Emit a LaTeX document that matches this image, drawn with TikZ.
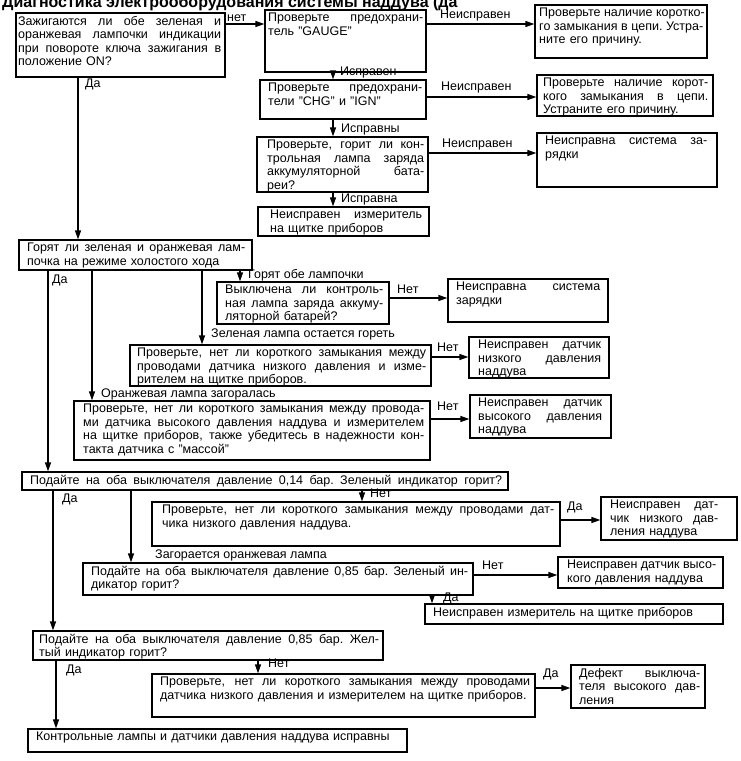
\documentclass[tikz,border=0pt]{standalone}
\usepackage{fontspec}
\setmainfont{Liberation Sans}
\usetikzlibrary{arrows.meta,fit}
\tikzset{
 boxs/.style={draw, line width=1.3pt, inner sep=0pt},
 txt/.style={inner sep=0pt, align=left, font=\fontsize{12.5}{13.5}\selectfont, anchor=north west},
 lbl/.style={inner sep=0pt, font=\fontsize{12.5}{13.5}\selectfont, anchor=base west},
 arr/.style={line width=1.3pt, -{Triangle[length=9pt,width=6pt]}},
}
\newcommand\jl[1]{{\spaceskip=\fontdimen2\font plus 1fil\xspaceskip=\spaceskip\makebox[\hsize][s]{#1}}\\}
\newcommand\jn[1]{{\spaceskip=\fontdimen2\font plus 1fil\xspaceskip=\spaceskip\makebox[\hsize][s]{#1}}}
\newcommand\bx[8]{%
  \node[boxs, fit={(#2,#3) (#4,#5)}] (#1) {};
  \pgfmathsetmacro\tw{#7-#6}%
  \pgfmathsetmacro\ty{#3+3}%
  \node[txt, text width=\tw pt] (#1t) at (#6,\ty) {#8};
}
\begin{document}
\begin{tikzpicture}[x=1pt,y=-1pt]
\useasboundingbox (0,0) rectangle (740,761);
\fill[white] (0,0) rectangle (740,761);
\clip (0,0) rectangle (740,761);
\node[font=\bfseries\fontsize{16}{16}\selectfont, anchor=base west, inner sep=0] (title) at (2,7) {Диагностика электрооборудования системы наддува (да};

\bx{b1}{16}{13}{225}{77}{18}{221}{\jl{Зажигаются ли обе зеленая и}\jl{оранжевая лампочки индикации}\jl{при повороте ключа зажигания в}положение ON?}
\bx{b2}{265}{10}{426}{72}{268}{423}{\jl{Проверьте предохрани-}тель "GAUGE"}
\bx{b3}{260}{80}{426}{119}{268}{422}{\jl{Проверьте предохрани-}тели "CHG" и "IGN"}
\bx{b4}{257}{137}{428}{192}{267}{424}{\jl{Проверьте, горит ли кон-}\jl{трольная лампа заряда}\jl{аккумуляторной бата-}реи?}
\bx{b8}{258}{207}{429}{236}{270}{422}{\jl{Неисправен измеритель}на щитке приборов}
\bx{b5}{535}{5}{707}{58}{539}{703}{\jl{Проверьте наличие коротко-}\jl{го замыкания в цепи. Устра-}ните его причину.}
\bx{b6}{537}{75}{713}{116}{543}{708}{\jl{Проверьте наличие корот-}\jl{кого замыкания в цепи.}Устраните его причину.}
\bx{b7}{537}{133}{717}{187}{545}{707}{\jl{Неисправна система за-}рядки}
\bx{b9}{19}{240}{252}{270}{27}{245}{\jl{Горят ли зеленая и оранжевая лам-}почка на режиме холостого хода}
\bx{b10}{217}{282}{389}{324}{225}{383}{\jl{Выключена ли контроль-}\jl{ная лампа заряда аккуму-}ляторной батарей?}
\bx{b11}{448}{279}{608}{322}{456}{600}{\jl{Неисправна система}зарядки}
\bx{b12}{130}{345}{431}{386}{137}{426}{\jl{Проверьте, нет ли короткого замыкания между}\jl{проводами датчика низкого давления и изме-}рителем на щитке приборов.}
\bx{b13}{469}{337}{609}{378}{478}{601}{\jl{Неисправен датчик}\jl{низкого давления}наддува}
\bx{b14}{74}{401}{430}{460}{83}{424}{\jl{Проверьте, нет ли короткого замыкания между провода-}\jl{ми датчика высокого давления наддува и измерителем}\jl{на щитке приборов, также убедитесь в надежности кон-}такта датчика с "массой"}
\bx{b15}{470}{395}{611}{438}{478}{602}{\jl{Неисправен датчик}\jl{высокого давления}наддува}
\bx{b16}{22}{472}{508}{490}{30}{502}{\jn{Подайте на оба выключателя давление 0,14 бар. Зеленый индикатор горит?}}
\bx{b17}{152}{502}{560}{546}{162}{554}{\jl{Проверьте, нет ли короткого замыкания между проводами дат-}чика низкого давления наддува.}
\bx{b20}{601}{497}{737}{540}{610}{718}{\jl{Неисправен дат-}\jl{чик низкого дав-}ления наддува}
\bx{b18}{83}{563}{473}{595}{91}{468}{\jl{Подайте на оба выключателя давление 0,85 бар. Зеленый ин-}дикатор горит?}
\bx{b21}{558}{557}{723}{588}{567}{716}{\jl{Неисправен датчик высо-}кого давления наддува}
\bx{b22}{425}{604}{723}{624}{433}{716}{Неисправен измеритель на щитке приборов}
\bx{b19}{33}{631}{383}{660}{39}{379}{\jl{Подайте на оба выключателя давление 0,85 бар. Жел-}тый индикатор горит?}
\bx{b23}{152}{674}{535}{717}{160}{530}{\jl{Проверьте, нет ли короткого замыкания между проводами}датчика низкого давления и измерителем на щитке приборов.}
\bx{b25}{571}{665}{705}{708}{579}{700}{\jl{Дефект выключа-}\jl{теля высокого дав-}ления}
\bx{b24}{28}{729}{407}{752}{36}{400}{Контрольные лампы и датчики давления наддува исправны}

% labels
\node[lbl] (l1) at (227,21) {нет};
\node[lbl] (l2) at (440,18) {Неисправен};
\node[lbl] (l3) at (340,75) {Исправен};
\node[lbl] (l4) at (441,90) {Неисправен};
\node[lbl] (l5) at (341,132) {Исправны};
\node[lbl] (l6) at (442,147) {Неисправен};
\node[lbl] (l7) at (341,202) {Исправна};
\node[lbl] (l8) at (85,87) {Да};
\node[lbl] (l9) at (248,278) {Горят обе лампочки};
\node[lbl] (l10) at (397,293) {Нет};
\node[lbl] (l11) at (211,337) {Зеленая лампа остается гореть};
\node[lbl] (l12) at (437,351) {Нет};
\node[lbl] (l13) at (101,397) {Оранжевая лампа загоралась};
\node[lbl] (l14) at (437,410) {Нет};
\node[lbl] (l15) at (52,283) {Да};
\node[lbl] (l16) at (370,497) {Нет};
\node[lbl] (l17) at (567,510) {Да};
\node[lbl] (l18) at (155,558) {Загорается оранжевая лампа};
\node[lbl] (l19) at (482,569) {Нет};
\node[lbl] (l20) at (443,601) {Да};
\node[lbl] (l21) at (62,502) {Да};
\node[lbl] (l22) at (268,667) {Нет};
\node[lbl] (l23) at (543,677) {Да};
\node[lbl] (l24) at (66,673) {Да};

% connectors
\draw[arr] (b1.east |- 0,24) -- (b2.west |- 0,24);
\draw[arr] (b2.east |- 0,24) -- (b5.west |- 0,24);
\draw[arr] (333,0 |- b2.south) -- (333,0 |- b3.north);
\draw[arr] (b3.east |- 0,97) -- (b6.west |- 0,97);
\draw[arr] (333,0 |- b3.south) -- (333,0 |- b4.north);
\draw[arr] (b4.east |- 0,153) -- (b7.west |- 0,153);
\draw[arr] (333,0 |- b4.south) -- (333,0 |- b8.north);
\draw[arr] (78,0 |- b1.south) -- (78,0 |- b9.north);
\draw[arr] (240,0 |- b9.south) -- (240,0 |- b10.north);
\draw[arr] (b10.east |- 0,298) -- (b11.west |- 0,298);
\draw[arr] (202,0 |- b9.south) -- (202,0 |- b12.north);
\draw[arr] (b12.east |- 0,357) -- (b13.west |- 0,357);
\draw[arr] (92,0 |- b9.south) -- (92,0 |- b14.north);
\draw[arr] (b14.east |- 0,419) -- (b15.west |- 0,419);
\draw[arr] (48,0 |- b9.south) -- (48,0 |- b16.north);
\draw[arr] (362,0 |- b16.south) -- (362,0 |- b17.north);
\draw[arr] (b17.east |- 0,520) -- (b20.west |- 0,520);
\draw[arr] (131,0 |- b16.south) -- (131,0 |- b18.north);
\draw[arr] (b18.east |- 0,575) -- (b21.west |- 0,575);
\draw[arr] (432,0 |- b18.south) -- (432,0 |- b22.north);
\draw[arr] (53,0 |- b16.south) -- (53,0 |- b19.north);
\draw[arr] (258,0 |- b19.south) -- (258,0 |- b23.north);
\draw[arr] (b23.east |- 0,688) -- (b25.west |- 0,688);
\draw[arr] (56,0 |- b19.south) -- (56,0 |- b24.north);
\end{tikzpicture}
\end{document}
